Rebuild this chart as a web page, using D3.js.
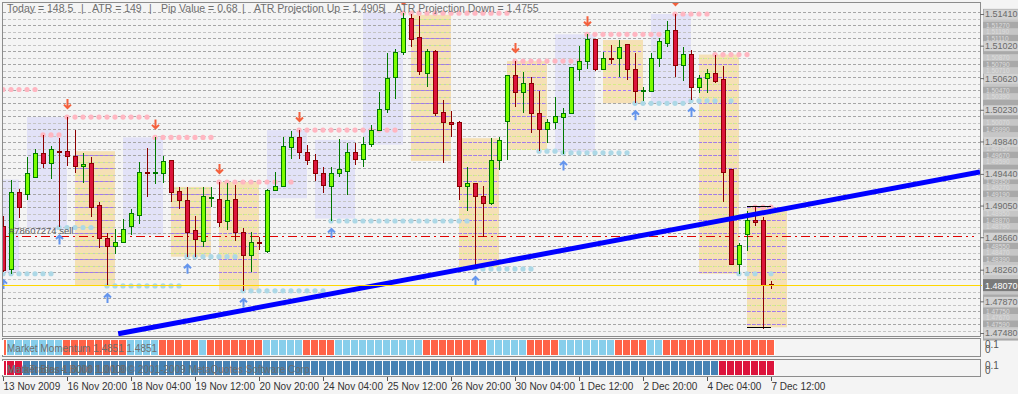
<!DOCTYPE html>
<html>
<head>
<meta charset="utf-8">
<script src="https://cdn.jsdelivr.net/npm/d3@7"></script>
<style>
body { margin: 0; background: #f4f4f4; }
text { font-family: "Liberation Sans", Arial, sans-serif; }
</style>
</head>
<body>
<div id="chart"></div>
<script>
// EURUSD H4 bars, 13 Nov 12:00 .. 7 Dec 12:00 2009
var opens = [1.4879,1.4826,1.4921,1.4919,1.4940,1.4969,1.4957,1.4972,1.4972,1.4966,
	1.4953,1.4957,1.4905,1.4864,1.4854,1.4859,1.4879,1.4893,1.4946,1.4944,
	1.4945,1.4960,1.4922,1.4911,1.4874,1.4861,1.4914,1.4913,1.4885,1.4912,
	1.4872,1.4844,1.4859,1.4848,1.4923,1.4928,1.4977,1.4989,1.4970,1.4960,
	1.4945,1.4928,1.4945,1.4947,1.4970,1.4962,1.4980,1.4998,1.5023,1.5063,
	1.5093,1.5136,1.5112,1.5068,1.5095,1.5020,1.5007,1.5007,1.4928,1.4932,
	1.4916,1.4907,1.4960,1.5009,1.5065,1.5044,1.5055,1.5019,1.4999,1.5007,
	1.5014,1.5019,1.5073,1.5082,1.5109,1.5073,1.5086,1.5086,1.5103,1.5073,
	1.5046,1.5046,1.5086,1.5105,1.5121,1.5077,1.5091,1.5051,1.5061,1.5068,
	1.5060,1.4949,1.4833,1.4869,1.4887,1.4886,1.4808];
var highs = [1.4892,1.4937,1.4925,1.4965,1.4975,1.4992,1.4978,1.4988,1.5014,1.4998,
	1.4970,1.4965,1.4909,1.4871,1.4876,1.4889,1.4901,1.4959,1.4976,1.4989,
	1.4966,1.4961,1.4928,1.4928,1.4892,1.4928,1.4928,1.4934,1.4933,1.4930,
	1.4877,1.4872,1.4866,1.4926,1.4946,1.4989,1.4997,1.4998,1.4980,1.4969,
	1.4953,1.4953,1.4987,1.4982,1.4982,1.4989,1.5004,1.5045,1.5093,1.5098,
	1.5142,1.5141,1.5139,1.5098,1.5097,1.5035,1.5022,1.5009,1.4953,1.4933,
	1.4929,1.4988,1.4989,1.5066,1.5083,1.5070,1.5063,1.5046,1.5012,1.5039,
	1.5025,1.5076,1.5102,1.5116,1.5110,1.5094,1.5103,1.5109,1.5103,1.5093,
	1.5051,1.5093,1.5112,1.5132,1.5141,1.5100,1.5097,1.5066,1.5073,1.5091,
	1.5077,1.4950,1.4859,1.4898,1.4903,1.4891,1.4812];
var lows = [1.4823,1.4821,1.4890,1.4912,1.4940,1.4951,1.4938,1.4878,1.4954,1.4945,
	1.4933,1.4891,1.4853,1.4806,1.4845,1.4859,1.4869,1.4882,1.4916,1.4932,
	1.4933,1.4909,1.4901,1.4842,1.4842,1.4854,1.4903,1.4879,1.4875,1.4861,
	1.4800,1.4823,1.4850,1.4847,1.4923,1.4928,1.4962,1.4962,1.4955,1.4935,
	1.4921,1.4886,1.4940,1.4918,1.4955,1.4953,1.4977,1.4997,1.5019,1.5036,
	1.5091,1.5100,1.5066,1.5051,1.5015,1.4957,1.4989,1.4912,1.4898,1.4827,
	1.4866,1.4906,1.4949,1.4961,1.5027,1.5019,1.4994,1.4972,1.4982,1.4999,
	1.4969,1.5019,1.5058,1.5073,1.5071,1.5073,1.5080,1.5063,1.5060,1.5031,
	1.5034,1.5046,1.5076,1.5100,1.5063,1.5058,1.5035,1.5044,1.5044,1.5056,
	1.4909,1.4832,1.4821,1.4849,1.4880,1.4753,1.4802];
var closes = [1.4825,1.4921,1.4903,1.4944,1.4969,1.4957,1.4974,1.4970,1.4965,1.4953,
	1.4956,1.4903,1.4864,1.4854,1.4859,1.4876,1.4895,1.4946,1.4945,1.4946,
	1.4959,1.4921,1.4911,1.4872,1.4863,1.4916,1.4915,1.4884,1.4911,1.4872,
	1.4844,1.4860,1.4858,1.4924,1.4928,1.4978,1.4989,1.4970,1.4960,1.4945,
	1.4930,1.4945,1.4950,1.4970,1.4962,1.4980,1.4998,1.5023,1.5062,1.5093,
	1.5136,1.5110,1.5070,1.5095,1.5019,1.5007,1.5005,1.4928,1.4932,1.4916,
	1.4908,1.4961,1.4985,1.5065,1.5044,1.5055,1.5019,1.4999,1.5007,1.5015,
	1.5018,1.5075,1.5082,1.5109,1.5073,1.5086,1.5085,1.5100,1.5073,1.5046,
	1.5047,1.5086,1.5107,1.5121,1.5077,1.5091,1.5051,1.5061,1.5068,1.5058,
	1.4946,1.4833,1.4856,1.4887,1.4884,1.4807,1.4807];

// daily range boxes (bar index from/to, high, low, kind)
var boxFrom = [0,3,9,15,21,27,33,39,45,51,57,63,69,75,81,87,93];
var boxTo   = [2,8,14,20,26,32,38,44,50,56,62,68,74,80,86,92,98];
var boxHigh = [1.4937,1.5014,1.4972,1.4989,1.4928,1.4934,1.4998,1.4986,1.5143,1.5140,1.4988,1.5083,1.5116,1.5109,1.5141,1.5091,1.4903];
var boxLow  = [1.4822,1.4875,1.4806,1.4869,1.4842,1.4801,1.4914,1.4889,1.4980,1.4960,1.4829,1.4974,1.4971,1.5031,1.5031,1.4821,1.4755];
var boxKind = ['up','up','down','up','down','down','up','up','up','down','down','down','up','down','up','down','down'];

// fractal resistance (pink dots) and support (blue dots)
var resFrom  = [0,5,8,19,27,37,50,64,73,84,89,94];
var resTo    = [4,7,18,26,36,49,63,72,82,88,93,96];
var resPrice = [1.5048,1.4992,1.5014,1.4989,1.4934,1.4998,1.5142,1.5083,1.5116,1.5141,1.5091,1.4903];
var resArrow = [0,0,1,1,1,1,1,1,1,1,0,0];
var supFrom  = [0,7,13,23,30,41,59,67,70,79,86,92];
var supTo    = [6,11,22,29,40,58,66,69,78,85,91,96];
var supPrice = [1.4821,1.4878,1.4806,1.4842,1.4800,1.4886,1.4827,1.4972,1.4970,1.5031,1.5034,1.4821];
var supArrow = [1,1,1,1,1,1,1,0,1,1,1,0];

// trend line anchors (bar index, price)
var trendIdx = [14.4, 96];
var trendPrice = [1.4747, 1.4898];

var orderPrice = 1.4868, bidPrice = 1.4807;
var atrUp = 1.4905, atrDown = 1.4755;

// Market Momentum (1 = up) and second indicator (1 = up)
var momentum = [-1,1,1,1,1,1,1,1,-1,-1, -1,-1,-1,-1,-1,-1,1,1,1,1,
	-1,-1,-1,-1,-1,1,-1,-1,-1,-1, -1,-1,-1,1,1,1,1,1,-1,-1,
	-1,-1,1,1,1,1,1,1,1,1, 1,1,1,-1,-1,-1,-1,-1,-1,-1,
	-1,1,1,1,1,1,-1,-1,-1,-1, 1,1,1,1,1,1,1,-1,-1,-1,
	-1,1,1,-1,-1,-1,-1,-1,-1,-1, -1,-1,-1,-1,-1,-1,-1];
var bias = [-1,-1,-1,1,1,1,1,1,1,1, 1,1,1,1,1,1,1,1,1,1,
	1,1,1,1,1,1,1,1,1,1, 1,1,1,1,1,1,1,1,1,1,
	1,1,1,1,1,1,1,1,1,1, 1,1,1,1,1,1,1,1,1,1,
	1,1,1,1,1,1,1,1,1,1, 1,1,1,1,1,1,1,1,1,1,
	1,1,1,1,1,1,1,1,1,1, -1,-1,-1,-1,-1,-1,-1];

var xLabels = ['13 Nov 2009','16 Nov 20:00','18 Nov 04:00','19 Nov 12:00','20 Nov 20:00','24 Nov 04:00',
	'25 Nov 12:00','26 Nov 20:00','30 Nov 04:00','1 Dec 12:00','2 Dec 20:00','4 Dec 04:00','7 Dec 12:00'];
var xLabelIdx = [0,8,16,24,32,40,48,56,64,72,80,88,96];
var yTicks = [1.51410,1.51020,1.50620,1.50230,1.49840,1.49440,1.49050,1.48660,1.48260,1.47870,1.47480];

var headerText = ['Today = 148.5','|','ATR = 149','|','Pip Value = 0.68','|','ATR Projection Up = 1.4905','|','ATR Projection Down = 1.4755'];
var headerX = [7,81,92,149,161,242,254,383,395];

// scales
var x = d3.scaleLinear().domain([0, 96]).range([3, 771]);
var y = d3.scaleLinear().domain([1.4748, 1.5141]).range([333, 14]);
var PL = 3, PR = 980, PT = 3, PB = 336;

var svg = d3.select('#chart').append('svg')
	.attr('width', 1018).attr('height', 394)
	.style('display', 'block').style('background', '#f4f4f4');

svg.append('defs').append('clipPath').attr('id', 'pc')
	.append('rect').attr('x', PL).attr('y', PT).attr('width', PR - PL).attr('height', PB - PT);

var plot = svg.append('g').attr('clip-path', 'url(#pc)');

var boxes = boxFrom.map(function(f, k){
	return {from: f, to: boxTo[k], high: boxHigh[k], low: boxLow[k], kind: boxKind[k]};
});

plot.selectAll('rect.box').data(boxes).enter().append('rect')
	.attr('x', function(d){ return x(d.from); })
	.attr('width', function(d){ return x(d.to) - x(d.from); })
	.attr('y', function(d){ return y(d.high); })
	.attr('height', function(d){ return y(d.low) - y(d.high); })
	.attr('fill', function(d){ return d.kind == 'up' ? '#e2e2f7' : '#f5e0b5'; });

// dashed level lines
var gridLevels = d3.range(0, 51).map(function(k){ return 1.5143 - k * 0.0008; });
var gy = function(p){ return Math.round(y(p)) + 0.5; };

plot.selectAll('line.grid').data(gridLevels).enter().append('line')
	.attr('x1', PL).attr('x2', PR)
	.attr('y1', gy).attr('y2', gy)
	.attr('stroke', function(d, k){ return k % 2 ? '#c4c4c4' : '#a6a6a6'; })
	.attr('stroke-dasharray', '3,2');

boxes.filter(function(b){ return b.kind == 'down'; }).forEach(function(b){
	gridLevels.forEach(function(p, k){
		if (p > b.high || p < b.low) return;
		plot.append('line')
			.attr('x1', x(b.from)).attr('x2', x(b.to))
			.attr('y1', gy(p)).attr('y2', gy(p))
			.attr('stroke', k % 2 ? '#d6ec86' : '#a277f0')
			.attr('stroke-dasharray', '3,2');
	});
});

// order line
plot.append('line')
	.attr('x1', PL).attr('x2', 974)
	.attr('y1', gy(orderPrice)).attr('y2', gy(orderPrice))
	.attr('stroke', '#e00000').attr('stroke-dasharray', '9,4,2,4');

// bid line
svg.append('line')
	.attr('x1', PL).attr('x2', 982)
	.attr('y1', gy(bidPrice)).attr('y2', gy(bidPrice))
	.attr('stroke', '#ffd700');

// dotted fractal lines
var dots = [];
resFrom.forEach(function(f, k){
	for (var i = f; i <= resTo[k]; i++) dots.push({i: i, p: resPrice[k], c: '#ffb6c1'});
});
supFrom.forEach(function(f, k){
	for (var i = f; i <= supTo[k]; i++) dots.push({i: i, p: supPrice[k], c: '#add8e6'});
});
plot.selectAll('circle.dot').data(dots).enter().append('circle')
	.attr('cx', function(d){ return x(d.i); })
	.attr('cy', function(d){ return y(d.p); })
	.attr('r', 2.6)
	.attr('fill', function(d){ return d.c; });

// candles
var bars = opens.map(function(o, i){
	return {i: i, o: o, h: highs[i], l: lows[i], c: closes[i]};
});
var cg = plot.append('g').attr('shape-rendering', 'crispEdges');
cg.selectAll('line.wick').data(bars).enter().append('line')
	.attr('x1', function(d){ return x(d.i) + 0.5; })
	.attr('x2', function(d){ return x(d.i) + 0.5; })
	.attr('y1', function(d){ return y(d.h); })
	.attr('y2', function(d){ return y(d.l); })
	.attr('stroke', function(d){ return d.c >= d.o ? '#007800' : '#8b0000'; });
cg.selectAll('rect.body').data(bars).enter().append('rect')
	.attr('x', function(d){ return x(d.i) - 1.5; })
	.attr('width', 4)
	.attr('y', function(d){ return y(Math.max(d.o, d.c)); })
	.attr('height', function(d){ return Math.max(1, Math.abs(y(d.o) - y(d.c))); })
	.attr('fill', function(d){ return d.c >= d.o ? '#7cfc00' : '#dc143c'; })
	.attr('stroke', function(d){ return d.c >= d.o ? '#007800' : '#8b0000'; });

// trend line, from its first anchor out to the right edge
var trend = d3.scaleLinear().domain(trendIdx).range(trendPrice);
var iEnd = x.invert(PR);
plot.append('line')
	.attr('x1', x(trendIdx[0])).attr('y1', y(trendPrice[0]))
	.attr('x2', x(iEnd)).attr('y2', y(trend(iEnd)))
	.attr('stroke', '#0000ff').attr('stroke-width', 5);

// ATR projection lines on the last day
[atrUp, atrDown].forEach(function(p){
	plot.append('line')
		.attr('x1', x(93)).attr('x2', x(96))
		.attr('y1', gy(p)).attr('y2', gy(p))
		.attr('stroke', '#000');
});

// fractal arrows
var arrows = [];
resFrom.forEach(function(f, k){ if (resArrow[k]) arrows.push({i: f, p: highs[f], dir: -1}); });
supFrom.forEach(function(f, k){ if (supArrow[k]) arrows.push({i: f, p: lows[f], dir: 1}); });
plot.selectAll('path.arrow').data(arrows).enter().append('path')
	.attr('transform', function(d){
		var cy = d.dir < 0 ? y(d.p) - 13 : y(d.p) + 12;
		return 'translate(' + (x(d.i) + 0.5) + ',' + cy + ')';
	})
	.attr('d', function(d){
		return d.dir < 0 ? 'M0,-5V4M-3.5,0.5L0,4L3.5,0.5' : 'M0,5V-4M-3.5,-0.5L0,-4L3.5,-0.5';
	})
	.attr('fill', 'none')
	.attr('stroke', function(d){ return d.dir < 0 ? '#f4603c' : '#6495ed'; })
	.attr('stroke-width', 2);

// order label
plot.append('text').attr('x', 9).attr('y', gy(orderPrice) - 3)
	.attr('font-size', 9.5).attr('fill', '#5a5a5a').text('#78607274 sell');

// header
svg.selectAll('text.head').data(headerText).enter().append('text')
	.attr('x', function(d, k){ return headerX[k]; }).attr('y', 12)
	.attr('font-size', 10.5).attr('fill', '#6e6e6e')
	.text(function(d){ return d; });

// frames
svg.append('rect').attr('x', 2.5).attr('y', 2.5).attr('width', 978).attr('height', 334)
	.attr('fill', 'none').attr('stroke', '#8c8c8c');

// right price scale: label column of the level lines
var rc = svg.append('g');
gridLevels.forEach(function(p, k){
	rc.append('rect').attr('x', 983).attr('y', y(p) - 3.5).attr('width', 35).attr('height', 7)
		.attr('fill', k % 2 ? '#c6c6c6' : '#a9a9a9');
	var nearTick = yTicks.concat([bidPrice]).some(function(t){ return Math.abs(y(t) - y(p)) < 7; });
	if (!nearTick) {
		rc.append('text').attr('x', 986).attr('y', y(p) + 2.5).attr('font-size', 6.5)
			.attr('fill', '#dcdcdc').text(d3.format('.5f')(p));
	}
});

var yAxis = svg.append('g').attr('transform', 'translate(980,0)')
	.call(d3.axisRight(y).tickValues(yTicks).tickSize(4).tickFormat(d3.format('.5f')));
yAxis.select('.domain').remove();
yAxis.selectAll('.tick line').attr('stroke', '#6e6e6e');
yAxis.selectAll('.tick').insert('rect', 'text')
	.attr('x', 4).attr('y', -5).attr('width', 36).attr('height', 10).attr('fill', '#d2d2d2');
yAxis.selectAll('.tick text').attr('x', 5).attr('font-size', 9)
	.attr('font-family', '"Liberation Sans", Arial, sans-serif').attr('fill', '#6a6a6a');

// current price label
svg.append('rect').attr('x', 983).attr('y', y(bidPrice) - 6).attr('width', 35).attr('height', 12).attr('fill', '#7a7a7a');
svg.append('text').attr('x', 985).attr('y', y(bidPrice) + 4).attr('font-size', 9)
	.attr('fill', '#ffffff').text(d3.format('.5f')(bidPrice));

// indicator windows
function subWindow(top, h, values, upColor, downColor, labels){
	svg.append('rect').attr('x', 2.5).attr('y', top + 0.5).attr('width', 978).attr('height', h)
		.attr('fill', '#f4f4f4').attr('stroke', '#8c8c8c');
	svg.append('rect').attr('x', x(0) - 4).attr('y', top + 2).attr('width', x(96) - x(0) + 8)
		.attr('height', h - 3).attr('fill', '#ffffff');
	svg.append('g').selectAll('rect').data(values).enter().append('rect')
		.attr('x', function(d, i){ return Math.max(PL + 1, x(i) - 4); })
		.attr('width', function(d, i){ return x(i) + 3 - Math.max(PL + 1, x(i) - 4); })
		.attr('y', top + 2).attr('height', h - 3)
		.attr('fill', function(d){ return d > 0 ? upColor : downColor; });
	labels.forEach(function(l){
		svg.append('text').attr('x', 7).attr('y', top + 14).attr('font-size', 10)
			.attr('fill', l.c).text(l.t);
	});
	svg.append('text').attr('x', 985).attr('y', top + 10).attr('font-size', 10).attr('fill', '#555').text('0.1');
	svg.append('text').attr('x', 985).attr('y', top + 15).attr('font-size', 10).attr('fill', '#555').text('0');
}
subWindow(338, 18, momentum, '#87ceeb', '#ff6347', [{t: 'Market Momentum 1.4851 1.4851', c: '#6e6e6e'}]);
subWindow(359, 17, bias, '#4682b4', '#dc143c', [
	{t: 'Market Bias 1.0000 1.0000', c: '#666666'},
	{t: 'MetaTrader 4 Build 1.0.1.9 \u00a9 2001-2009 MetaQuotes Software Corp.', c: '#6e6e6e'}]);

// time axis
var xAxis = svg.append('g').attr('transform', 'translate(0,377)')
	.call(d3.axisBottom(x).tickValues(xLabelIdx).tickSize(4)
		.tickFormat(function(d, k){ return xLabels[k]; }));
xAxis.select('.domain').remove();
xAxis.selectAll('.tick line').attr('stroke', '#555');
xAxis.selectAll('.tick text').attr('text-anchor', 'start').attr('x', 0).attr('y', 6).attr('dy', '0.71em')
	.attr('font-size', 10).attr('font-family', '"Liberation Sans", Arial, sans-serif').attr('fill', '#333');
</script>
</body>
</html>
